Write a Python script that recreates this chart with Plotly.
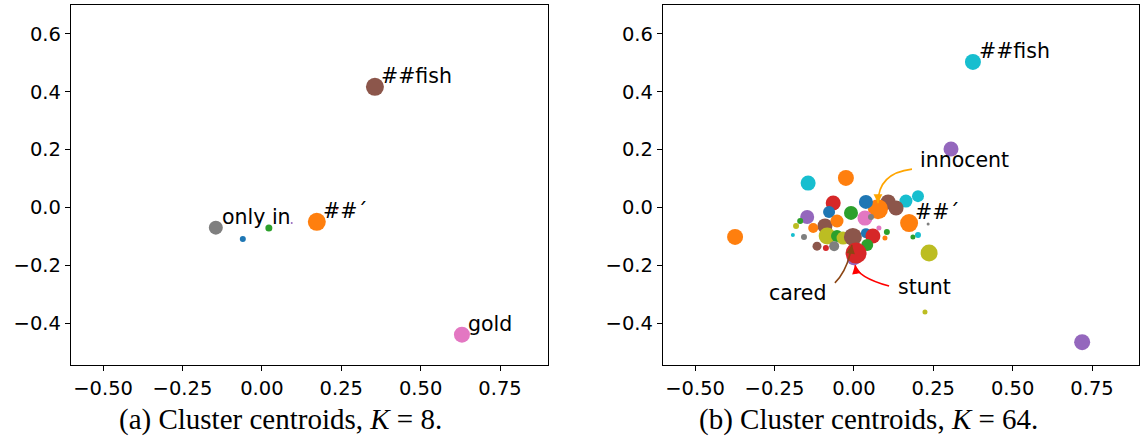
import plotly.graph_objects as go

TAB = {"blue": "#1f77b4", "orange": "#ff7f0e", "green": "#2ca02c", "red": "#d62728",
       "purple": "#9467bd", "brown": "#8c564b", "pink": "#e377c2", "gray": "#7f7f7f",
       "olive": "#bcbd22", "cyan": "#17becf"}

# ---- Panel (a): K = 8 ----
a_x = [-0.145, -0.06, 0.022, 0.094, 0.173, 0.236, 0.356, 0.63]
a_y = [-0.07, -0.109, -0.071, -0.054, -0.05, -0.005, 0.417, -0.44]
a_size = [14, 6, 7, 2, 18, 2, 18, 16]
a_color = ["gray", "blue", "green", "purple", "orange", "red", "brown", "pink"]
a_labels = {0: "only in", 4: "##´", 6: "##fish", 7: "gold"}

# ---- Panel (b): K = 64 ----
b_x = [0.306, 0.375, 0.719, -0.025, -0.144, -0.374, 0.202, 0.164, 0.108, 0.133,
       0.076, 0.038, -0.065, -0.078, -0.009, 0.035, 0.054, -0.147, -0.169, -0.091,
       -0.053, -0.128, -0.182, 0.174, 0.234, 0.079, 0.104, 0.098, 0.202, 0.186,
       -0.192, -0.157, -0.084, -0.053, -0.034, -0.003, 0.038, 0.060, 0.042, -0.062,
       -0.116, -0.088, 0.000, 0.007, 0.237, 0.224]
b_y = [0.202, 0.503, -0.466, 0.102, 0.084, -0.102, 0.039, 0.022, 0.019, -0.002,
       -0.006, 0.019, 0.015, -0.016, -0.019, -0.037, -0.033, -0.033, -0.047, -0.064,
       -0.047, -0.071, -0.064, -0.054, -0.057, -0.071, -0.085, -0.106, -0.095, -0.102,
       -0.095, -0.102, -0.099, -0.099, -0.106, -0.102, -0.089, -0.099, -0.130, -0.134,
       -0.134, -0.140, -0.176, -0.158, -0.158, -0.362]
b_size = [15, 16, 16, 16, 15, 16, 12, 13, 15, 15,
          20, 14, 15, 12, 14, 15, 6, 14, 6, 15,
          13, 10, 6, 18, 3, 5, 6, 5, 6, 5,
          4, 6, 17, 12, 13, 18, 10, 15, 12, 10,
          9, 6, 14, 21, 17, 5]
b_color = ["purple", "cyan", "purple", "orange", "cyan", "orange", "cyan", "cyan", "brown", "brown",
           "orange", "blue", "red", "blue", "green", "pink", "gray", "purple", "green", "brown",
           "orange", "orange", "olive", "orange", "gray", "pink", "green", "orange", "cyan", "green",
           "cyan", "gray", "olive", "green", "olive", "brown", "blue", "red", "green", "gray",
           "brown", "red", "purple", "red", "olive", "olive"]
b_labels = {1: "##fish", 23: "##´"}
# curved arrow annotations: point index, text, colour, text offset, start, control, end (px from point)
b_arrows = [
    (10, "innocent", "#ffa500", (40, -49), (34, -40), (0, -36), (0, -6)),
    (35, "cared", "#8b4513", (-25, 56), (-18, 46), (-5, 33), (-1, 8)),
    (43, "stunt", "#ff0000", (40, 34), (33, 33), (1, 24), (-1, 12)),
]

captions = ["(a) Cluster centroids, <i>K</i> = 8.", "(b) Cluster centroids, <i>K</i> = 64."]
caption_x_px = [280, 868]

W, H = 1145, 441


def px_x(p):
    return p / W


def px_y(p):
    return 1 - p / H


XR = [-0.601, 0.901]
XR2 = [-0.601, 0.898]
YR = [-0.545, 0.70]
dom_a = [px_x(71), px_x(548)]
dom_b = [px_x(663), px_x(1139)]
ydom = [px_y(365), px_y(5)]

# pixel -> data scale of panel (b)
sx = (XR2[1] - XR2[0]) / ((dom_b[1] - dom_b[0]) * W)
sy = (YR[1] - YR[0]) / ((ydom[1] - ydom[0]) * H)

fig = go.Figure()
fig.add_trace(go.Scatter(x=a_x, y=a_y, mode="markers", xaxis="x", yaxis="y",
                         marker=dict(size=a_size, color=[TAB[c] for c in a_color],
                                     opacity=1, line=dict(width=0)),
                         showlegend=False, hoverinfo="skip"))
fig.add_trace(go.Scatter(x=b_x, y=b_y, mode="markers", xaxis="x2", yaxis="y2",
                         marker=dict(size=b_size, color=[TAB[c] for c in b_color],
                                     opacity=1, line=dict(width=0)),
                         showlegend=False, hoverinfo="skip"))

FONT = "DejaVu Sans"
LSIZE = 20.5
ann = []
shapes = []
for i, t in a_labels.items():
    ann.append(dict(x=a_x[i], y=a_y[i], xref="x", yref="y", text=t, showarrow=False,
                    xanchor="left", yanchor="bottom", xshift=4, yshift=-3,
                    font=dict(family=FONT, size=LSIZE, color="black")))
for i, t in b_labels.items():
    ann.append(dict(x=b_x[i], y=b_y[i], xref="x2", yref="y2", text=t, showarrow=False,
                    xanchor="left", yanchor="bottom", xshift=4, yshift=-3,
                    font=dict(family=FONT, size=LSIZE, color="black")))


def to_data(i, off):
    return b_x[i] + off[0] * sx, b_y[i] - off[1] * sy


for i, t, c, toff, soff, coff, eoff in b_arrows:
    ann.append(dict(x=b_x[i], y=b_y[i], xref="x2", yref="y2", text=t, showarrow=False,
                    xshift=toff[0], yshift=-toff[1],
                    xanchor="left" if toff[0] > 0 else "right", yanchor="middle",
                    font=dict(family=FONT, size=LSIZE, color="black")))
    S, C, E = to_data(i, soff), to_data(i, coff), to_data(i, eoff)
    shapes.append(dict(type="path", xref="x2", yref="y2",
                       path=f"M {S[0]},{S[1]} Q {C[0]},{C[1]} {E[0]},{E[1]}",
                       line=dict(color=c, width=1.6)))
    dx, dy = eoff[0] - coff[0], eoff[1] - coff[1]
    n = (dx * dx + dy * dy) ** 0.5
    ann.append(dict(x=E[0], y=E[1], xref="x2", yref="y2", text="", showarrow=True,
                    ax=-dx / n * 10, ay=-dy / n * 10, arrowcolor=c, arrowwidth=1.6,
                    arrowhead=2, arrowsize=1.1, standoff=0))

for k, cap in enumerate(captions):
    ann.append(dict(x=px_x(caption_x_px[k]), y=px_y(419), xref="paper", yref="paper",
                    text=cap, showarrow=False, xanchor="center", yanchor="middle",
                    font=dict(family="Liberation Serif", size=29, color="black")))

axis_common = dict(showline=True, mirror=True, linecolor="black", linewidth=1.3,
                   ticks="outside", ticklen=5, tickwidth=1.2, tickcolor="black",
                   showgrid=False, zeroline=False, automargin=False,
                   tickfont=dict(family=FONT, size=19.5, color="black"))
xt = [-0.5, -0.25, 0.0, 0.25, 0.5, 0.75]
yt = [-0.4, -0.2, 0.0, 0.2, 0.4, 0.6]
fig.update_layout(
    width=W, height=H, margin=dict(l=0, r=0, t=0, b=0),
    paper_bgcolor="white", plot_bgcolor="white",
    xaxis=dict(domain=dom_a, range=XR, tickvals=xt, tickformat=".2f", anchor="y", **axis_common),
    yaxis=dict(domain=ydom, range=YR, tickvals=yt, tickformat=".1f", anchor="x", **axis_common),
    xaxis2=dict(domain=dom_b, range=XR2, tickvals=xt, tickformat=".2f", anchor="y2", **axis_common),
    yaxis2=dict(domain=ydom, range=YR, tickvals=yt, tickformat=".1f", anchor="x2", **axis_common),
    annotations=ann,
    shapes=shapes,
)
fig.write_html("out.html", config={"displayModeBar": False},
               post_script="document.body.style.margin='0px';")
